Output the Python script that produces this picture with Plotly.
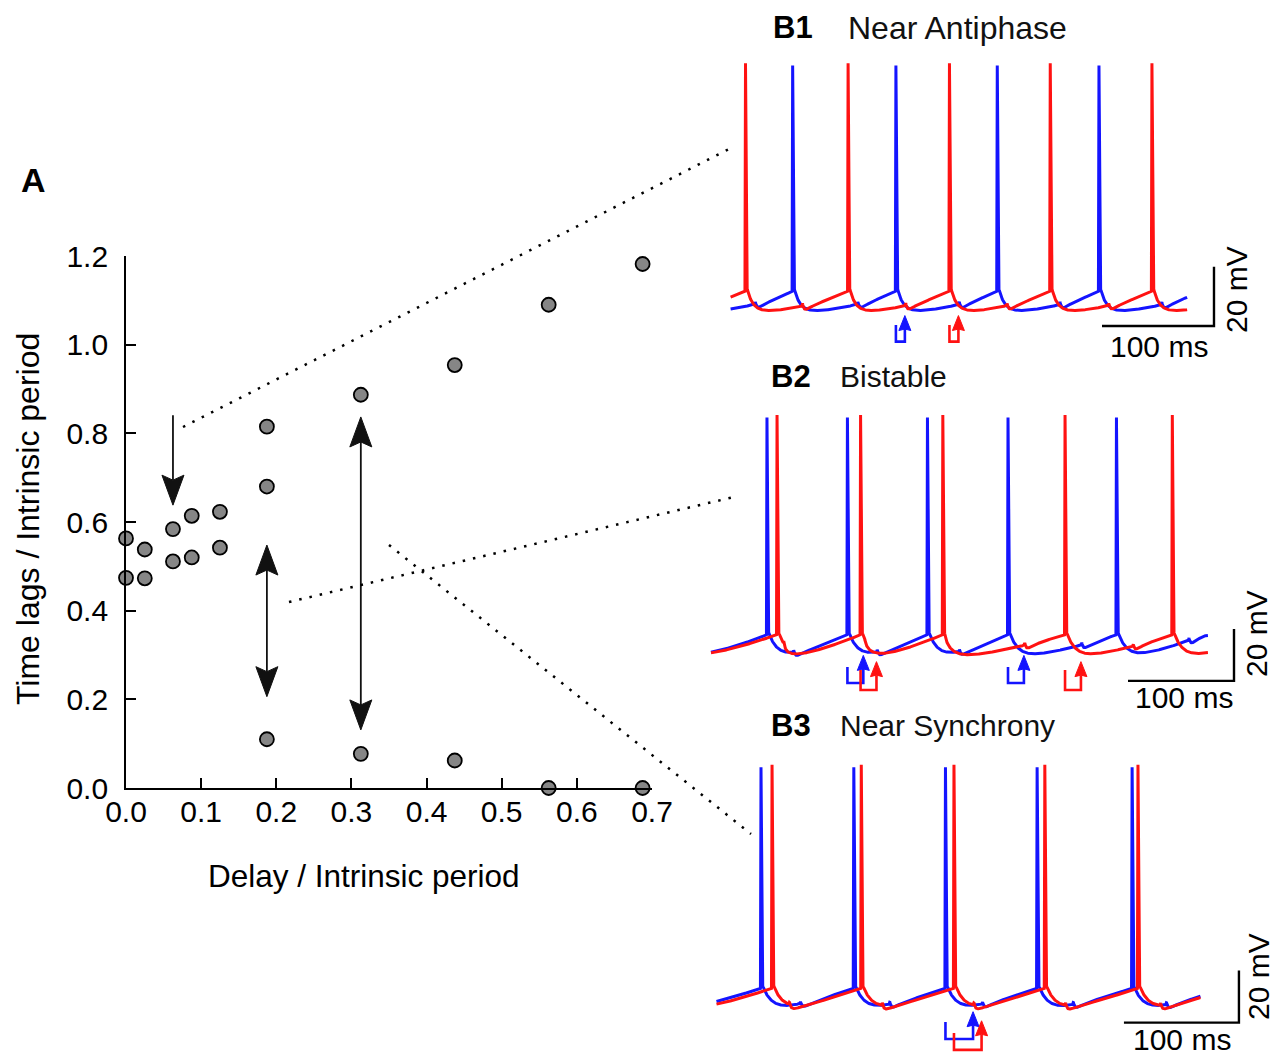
import numpy as np
import plotly.graph_objects as go

W, H = 1275, 1056
FONT = "Liberation Sans, Arial, sans-serif"

# ---------------- Panel A data ----------------
delay_ratio = [0.0, 0.0, 0.025, 0.025, 0.0625, 0.0625, 0.0875, 0.0875, 0.125, 0.125,
               0.1875, 0.1875, 0.1875, 0.3125, 0.3125, 0.4375, 0.4375, 0.5625, 0.5625,
               0.6875, 0.6875]
lag_ratio = [0.563, 0.474, 0.538, 0.473, 0.584, 0.511, 0.614, 0.520, 0.623, 0.542,
             0.815, 0.680, 0.110, 0.887, 0.077, 0.954, 0.062, 1.090, 0.0,
             1.182, 0.0]
x_ticks = [0.0, 0.1, 0.2, 0.3, 0.4, 0.5, 0.6, 0.7]
x_ticktext = ["0.0", "0.1", "0.2", "0.3", "0.4", "0.5", "0.6", "0.7"]
y_ticks = [0.0, 0.2, 0.4, 0.6, 0.8, 1.0, 1.2]
y_ticktext = ["0.0", "0.2", "0.4", "0.6", "0.8", "1.0", "1.2"]

# arrows in panel A: x, tail/top y, tip/bottom y, double headed
a_arrow_x = [0.0625, 0.1875, 0.3125]
a_arrow_y0 = [0.841, 0.548, 0.837]
a_arrow_y1 = [0.638, 0.206, 0.131]
a_arrow_double = [False, True, True]

# ---------------- Panel B data (spike times in ms) ----------------
b1_red = [13.3, 104.9, 195.4, 285.4, 376.2]
b1_blue = [55.4, 147.6, 238.1, 328.9]
b1_delay = 8.0
b2_blue = [52.8, 128.7, 204.2, 280.2, 382.5]
b2_red = [62.3, 141.1, 218.7, 334.0, 435.2]
b2_delay = 15.0
b3_blue = [38.7, 119.4, 199.1, 278.8, 361.4]
b3_red = [48.3, 125.9, 206.5, 285.5, 366.5]
b3_delay = 24.0

# voltage levels per panel (mV): trough, threshold, red peak, blue peak
b1_levels = [-65.0, -58.0, 18.8, 18.0]
b2_levels = [-65.0, -56.0, 28.5, 27.5]
b3_levels = [-65.0, -56.0, 30.0, 29.0]

B_titles = [("B1", "Near Antiphase"), ("B2", "Bistable"), ("B3", "Near Synchrony")]

BLUE = "#1414ff"
RED = "#ff1212"

A_SX = (652 - 126) / 0.7    # px per x unit in panel A
A_SY = (788 - 256) / 1.2    # px per y unit in panel A


def make_trace(t_end, spikes, other_spikes, delay, v_tr, v_th, v_pk,
               p=2.0, tau=4.0, bump=2.2, inh=2.6, tau_i=9.0):
    spikes = np.asarray(spikes, float)
    tmean = np.diff(spikes).mean()
    ext = np.concatenate([[spikes[0] - tmean], spikes, [spikes[-1] + tmean]])
    t = np.arange(0.0, t_end, 0.2)
    keep = np.ones_like(t, bool)
    for s in spikes:
        keep &= ~((t > s - 0.5) & (t < s + 1.0))
    t = np.sort(np.concatenate([t[keep], spikes - 0.5, spikes + 1.0]))
    idx = np.clip(np.searchsorted(ext, t, side="right") - 1, 0, len(ext) - 2)
    sp = ext[idx]
    sn = ext[idx + 1]
    u = t - sp
    T = sn - sp
    v = v_tr + (v_th + 1.5 - v_tr) * np.exp(-np.maximum(u - 1.0, 0) / tau) \
        + (v_th - v_tr) * np.clip(u / T, 0, 1) ** p
    for a in np.asarray(other_spikes) + delay:
        w = t - a
        m = w >= 0
        k = np.zeros_like(t)
        wm = w[m]
        k[m] = np.where(wm < 0.8, bump * wm / 0.8, bump * np.exp(-(wm - 0.8) / 1.5)) \
            - inh * (1 - np.exp(-wm / 1.0)) * np.exp(-wm / tau_i)
        v = v + k
    tt = np.concatenate([t, spikes])
    vv = np.concatenate([v, np.full(len(spikes), v_pk)])
    o = np.argsort(tt, kind="stable")
    return tt[o], vv[o]


fig = go.Figure()

fig.add_trace(go.Scatter(
    x=delay_ratio, y=lag_ratio, mode="markers", xaxis="x", yaxis="y",
    marker=dict(size=14, color="#868686", line=dict(color="black", width=1.8)),
    cliponaxis=False, showlegend=False, hoverinfo="skip"))


def py(pyx):
    return 1 - pyx / H


shapes = []
annotations = []
layout_axes = {}


def head(xref, yref, x, ytip, direction, sx, sy, w, L, notch, color):
    """Filled arrowhead; direction +1 points up (data y increasing), -1 down.
    Returns data y of the head's back notch."""
    yb = ytip - direction * L / sy
    yn = ytip - direction * (L - notch) / sy
    hw = w / 2 / sx
    shapes.append(dict(type="path", xref=xref, yref=yref,
                       path=f"M {x},{ytip} L {x-hw},{yb} L {x},{yn} L {x+hw},{yb} Z",
                       fillcolor=color, line=dict(color=color, width=1)))
    return yn


panels = [
    dict(x0=730.6, pxms=1.12, ref_px=311.7, pxmv=2.965, xr=[-5, 440], yr=[-78, 22],
         blue=b1_blue, red=b1_red, delay=b1_delay, lv=b1_levels, t_end=407.8, p=2.2, tau=5.0,
         bar=(431.6, -69.8), brackets=[(1, 2)], blue_br=(-69.5, -75.1, -66.3), red_br=(-69.5, -75.1, -66.3),
         title_y=28, b_x=771, t_x=846, tsize=32, ms=(1159, 346), mv=(1236, 290)),
    dict(x0=711.0, pxms=1.06, ref_px=658.0, pxmv=2.6, xr=[-5, 500], yr=[-80, 32],
         blue=b2_blue, red=b2_red, delay=b2_delay, lv=b2_levels, t_end=469.0, p=1.5, tau=8.0,
         bar=(493.4, -73.8), brackets=[(1, 1), (3, 3)], blue_br=(-68.5, -74.6, -64.0), red_br=(-69.6, -77.3, -66.4),
         title_y=377, b_x=769, t_x=838, tsize=30, ms=(1184, 697), mv=(1256, 634)),
    dict(x0=716.5, pxms=1.15, ref_px=1011.7, pxmv=2.6, xr=[-5, 460], yr=[-82, 35],
         blue=b3_blue, red=b3_red, delay=b3_delay, lv=b3_levels, t_end=420.9, p=1.3, tau=8.0,
         bar=(454.3, -69.2), brackets=[(2, 2)], blue_br=(-69.0, -75.5, -65.0), red_br=(-73.2, -79.7, -68.5),
         title_y=725, b_x=769, t_x=838, tsize=30, ms=(1182, 1039), mv=(1258, 977)),
]


def txt(x, y, s, size=30, angle=0, xanchor="center", color="black"):
    annotations.append(dict(x=x / W, y=py(y), xref="paper", yref="paper", text=s, showarrow=False,
                            textangle=angle, xanchor=xanchor, yanchor="middle",
                            font=dict(size=size, color=color, family=FONT)))


for i, P in enumerate(panels):
    n = i + 2
    xa, ya = f"x{n}", f"y{n}"
    lv = P["lv"]

    def vpx(v, P=P):
        return P["ref_px"] - (v - P["lv"][0]) * P["pxmv"]

    layout_axes[f"xaxis{n}"] = dict(domain=[(P["x0"] + P["xr"][0] * P["pxms"]) / W,
                                            (P["x0"] + P["xr"][1] * P["pxms"]) / W],
                                    range=P["xr"], visible=False, anchor=ya, fixedrange=True,
                                    automargin=False)
    layout_axes[f"yaxis{n}"] = dict(domain=[py(vpx(P["yr"][0])), py(vpx(P["yr"][1]))],
                                    range=P["yr"], visible=False, anchor=xa, fixedrange=True,
                                    automargin=False)

    tb, vb = make_trace(P["t_end"], P["blue"], P["red"], P["delay"], lv[0], lv[1], lv[3],
                        p=P["p"], tau=P["tau"])
    tr, vr = make_trace(P["t_end"], P["red"], P["blue"], P["delay"], lv[0], lv[1], lv[2],
                        p=P["p"], tau=P["tau"])
    fig.add_trace(go.Scatter(x=tb, y=vb, mode="lines", xaxis=xa, yaxis=ya,
                             line=dict(color=BLUE, width=3), showlegend=False, hoverinfo="skip"))
    fig.add_trace(go.Scatter(x=tr, y=vr, mode="lines", xaxis=xa, yaxis=ya,
                             line=dict(color=RED, width=3), showlegend=False, hoverinfo="skip"))

    bx, by = P["bar"]
    shapes.append(dict(type="path", xref=xa, yref=ya,
                       path=f"M {bx-100},{by} L {bx},{by} L {bx},{by+20}",
                       line=dict(color="black", width=2.4)))
    txt(P["ms"][0], P["ms"][1], "100 ms")
    txt(P["mv"][0], P["mv"][1], "20 mV", angle=-90)
    txt(P["b_x"], P["title_y"], "<b>" + B_titles[i][0] + "</b>", size=31, xanchor="left")
    txt(P["t_x"], P["title_y"], B_titles[i][1], size=P["tsize"], xanchor="left", color="#111111")

    for bi, ri in P["brackets"]:
        for spikes, br, col, k in ((P["blue"], P["blue_br"], BLUE, bi), (P["red"], P["red_br"], RED, ri)):
            s = spikes[k]
            a = s + P["delay"]
            ytop, ybot, ytip = br
            yn = head(xa, ya, a, ytip, +1, P["pxms"], P["pxmv"], 12, 15, 1.5, col)
            shapes.append(dict(type="path", xref=xa, yref=ya,
                               path=f"M {s},{ytop} L {s},{ybot} L {a},{ybot} L {a},{yn}",
                               line=dict(color=col, width=2.6)))

# ---- Panel A arrows ----
for x, y0, y1, dbl in zip(a_arrow_x, a_arrow_y0, a_arrow_y1, a_arrow_double):
    yb = head("x", "y", x, y1, -1, A_SX, A_SY, 22, 30, 5, "#111111")
    yt = y0
    if dbl:
        yt = head("x", "y", x, y0, +1, A_SX, A_SY, 22, 30, 5, "#111111")
    shapes.append(dict(type="line", xref="x", yref="y", x0=x, x1=x, y0=yt, y1=yb,
                       line=dict(color="#111111", width=1.8)))

for (x0, y0, x1, y1) in [(183, 427, 731, 148), (289, 602, 738, 496), (389, 545, 751, 834)]:
    shapes.append(dict(type="line", xref="paper", yref="paper",
                       x0=x0 / W, y0=py(y0), x1=x1 / W, y1=py(y1),
                       line=dict(color="black", width=2.5, dash="2.5px,8px")))

txt(33, 180, "<b>A</b>", size=34)
txt(364, 876, "Delay / Intrinsic period", size=31.5)
txt(28, 519, "Time lags / Intrinsic period", size=32, angle=-90)

axis_common = dict(showline=True, linecolor="black", linewidth=1.7, ticks="inside", ticklen=10,
                   tickwidth=1.7, tickcolor="black", showgrid=False, zeroline=False,
                   tickfont=dict(size=30, color="black", family=FONT), fixedrange=True,
                   automargin=False)

fig.update_layout(
    template="none",
    width=W, height=H, margin=dict(l=0, r=0, t=0, b=0, pad=0), autosize=False,
    paper_bgcolor="white", plot_bgcolor="rgba(0,0,0,0)",
    showlegend=False,
    xaxis=dict(domain=[126 / W, 652 / W], range=[0, 0.7], tickvals=x_ticks, ticktext=x_ticktext,
               anchor="y", ticklabelstandoff=-4, **axis_common),
    yaxis=dict(domain=[py(788), py(256)], range=[0, 1.2], tickvals=y_ticks, ticktext=y_ticktext,
               anchor="x", ticklabelstandoff=10, **axis_common),
    shapes=shapes, annotations=annotations,
    **layout_axes,
)

fig.write_html("out.html", config={"displayModeBar": False})
